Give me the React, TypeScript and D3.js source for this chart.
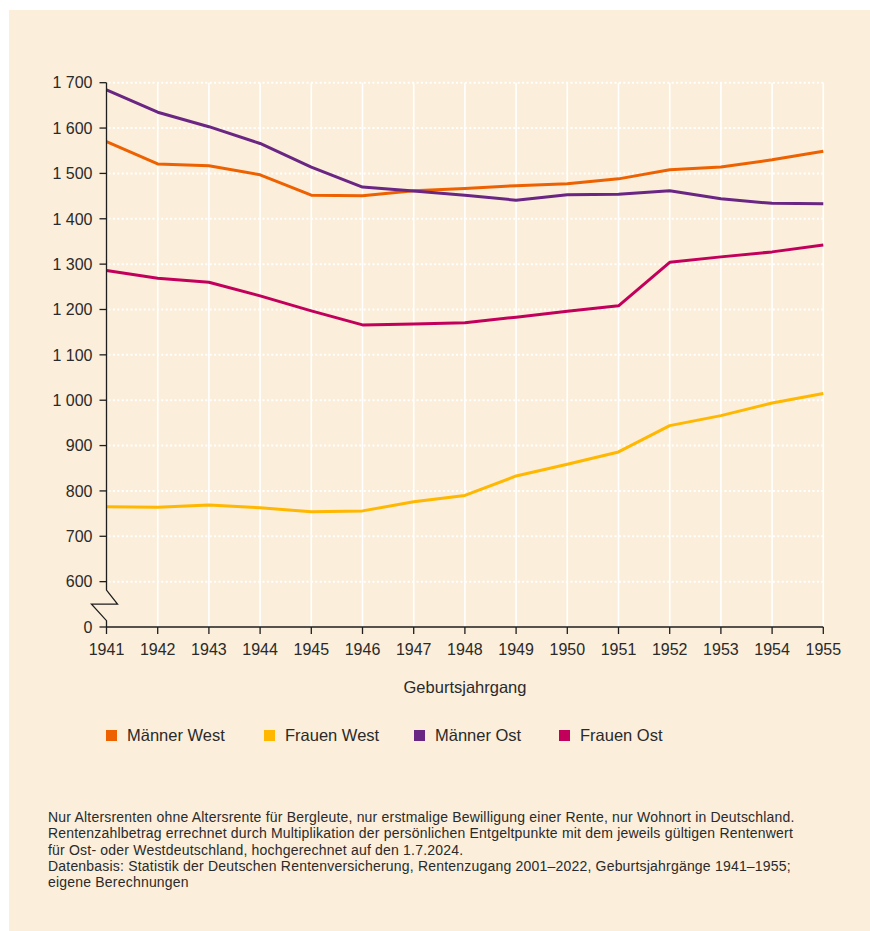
import React from "react";
import * as d3 from "d3";

const years = [1941, 1942, 1943, 1944, 1945, 1946, 1947, 1948, 1949, 1950, 1951, 1952, 1953, 1954, 1955];
const maennerWest = [1570, 1521, 1517, 1497, 1452, 1451, 1462, 1467, 1473, 1477, 1488, 1508, 1514, 1530, 1549];
const frauenWest = [765, 764, 769, 763, 754, 756, 776, 790, 833, 859, 886, 944, 966, 994, 1015];
const maennerOst = [1684, 1635, 1603, 1566, 1514, 1470, 1461, 1452, 1441, 1453, 1454, 1462, 1444, 1434, 1433];
const frauenOst = [1286, 1269, 1260, 1230, 1197, 1166, 1168, 1171, 1183, 1196, 1208, 1304, 1316, 1327, 1342];

const seriesNames = ["Männer West", "Frauen West", "Männer Ost", "Frauen Ost"];
const seriesColors = ["#EE6100", "#FFB700", "#6A2683", "#C2005B"];
const seriesValues = [maennerWest, frauenWest, maennerOst, frauenOst];

const yTicks = [500, 600, 700, 800, 900, 1000, 1100, 1200, 1300, 1400, 1500, 1600, 1700];
const xTitle = "Geburtsjahrgang";
const footnote = [
  "Nur Altersrenten ohne Altersrente für Bergleute, nur erstmalige Bewilligung einer Rente, nur Wohnort in Deutschland.",
  "Rentenzahlbetrag errechnet durch Multiplikation der persönlichen Entgeltpunkte mit dem jeweils gültigen Rentenwert",
  "für Ost- oder Westdeutschland, hochgerechnet auf den 1.7.2024.",
  "Datenbasis: Statistik der Deutschen Rentenversicherung, Rentenzugang 2001–2022, Geburtsjahrgänge 1941–1955;",
  "eigene Berechnungen",
];

const W = 870;
const H = 931;
const FONT = "'Liberation Sans', Arial, Helvetica, sans-serif";
const TEXT = "#2a2a2a";

export default function App() {
  const x = d3.scaleLinear().domain([1941, 1955]).range([106.5, 823.3]);
  const y = d3.scaleLinear().domain([500, 1700]).range([627, 82.7]);
  const loc = d3.formatLocale({ decimal: ",", thousands: "\u2009", grouping: [3], currency: ["", "€"] });
  const fmt = (v: number) => (v === 500 ? "0" : loc.format(",")(v).replace("\u2009", " "));
  const line = d3
    .line<number>()
    .x((_, i) => x(years[i]))
    .y((d) => y(d));

  const x0 = x(1941);
  const xEnd = x(1955);
  const yTop = y(1700);
  const yBase = y(500);
  const y600 = y(600);
  const legendX = [106, 264, 414, 559];

  return (
    <svg
      width={W}
      height={H}
      style={{ position: "absolute", left: 0, top: 0 }}
      fontFamily={FONT}
    >
      <rect x={0} y={0} width={W} height={H} fill="#ffffff" />
      <rect x={9} y={10} width={W - 9} height={H - 10} fill="#FBEEDA" />

      {/* vertical grid */}
      {years.slice(1).map((yr) => (
        <line key={yr} x1={x(yr)} x2={x(yr)} y1={yTop} y2={yBase} stroke="#ffffff" strokeWidth={1.6} />
      ))}
      {/* horizontal dotted grid */}
      {yTicks.slice(1).map((t) => (
        <line
          key={t}
          x1={x0 + 2}
          x2={xEnd}
          y1={y(t)}
          y2={y(t)}
          stroke="#ffffff"
          strokeWidth={2}
          strokeDasharray="2 2.4"
        />
      ))}

      {/* lines */}
      {seriesValues.map((vals, i) => (
        <path
          key={seriesNames[i]}
          d={line(vals) || ""}
          fill="none"
          stroke={seriesColors[i]}
          strokeWidth={3}
          strokeLinejoin="round"
        />
      ))}

      {/* y axis with break */}
      <path
        d={`M${x0},${yTop} L${x0},${y600 + 8.5} L${x0 + 11},${y600 + 22.5} L${x0 - 15},${y600 + 22.5} L${x0},${y600 + 39} L${x0},${yBase}`}
        fill="none"
        stroke="#1e1e1e"
        strokeWidth={1.3}
      />
      {yTicks.map((t) => (
        <g key={t}>
          <line x1={x0 - 7} x2={x0} y1={y(t)} y2={y(t)} stroke="#1e1e1e" strokeWidth={1.3} />
          <text x={x0 - 14} y={y(t)} dy="0.36em" textAnchor="end" fontSize={16} fill={TEXT}>
            {fmt(t)}
          </text>
        </g>
      ))}

      {/* x axis */}
      <line x1={x0} x2={xEnd} y1={yBase} y2={yBase} stroke="#1e1e1e" strokeWidth={1.3} />
      {years.map((yr) => (
        <g key={yr}>
          <line x1={x(yr)} x2={x(yr)} y1={yBase} y2={yBase + 7} stroke="#1e1e1e" strokeWidth={1.3} />
          <text x={x(yr)} y={655} textAnchor="middle" fontSize={16} fill={TEXT}>
            {yr}
          </text>
        </g>
      ))}
      <text x={465} y={692.5} textAnchor="middle" fontSize={16.5} fill={TEXT}>
        {xTitle}
      </text>

      {/* legend */}
      {seriesNames.map((n, i) => (
        <g key={n}>
          <rect x={legendX[i]} y={730} width={11} height={11} fill={seriesColors[i]} />
          <text x={legendX[i] + 21} y={741} fontSize={16.5} fill={TEXT}>
            {n}
          </text>
        </g>
      ))}

      {/* footnote */}
      {footnote.map((l, i) => (
        <text key={i} x={48} y={822 + i * 16.3} fontSize={14} letterSpacing={0.2} fill={TEXT}>
          {l}
        </text>
      ))}
    </svg>
  );
}
